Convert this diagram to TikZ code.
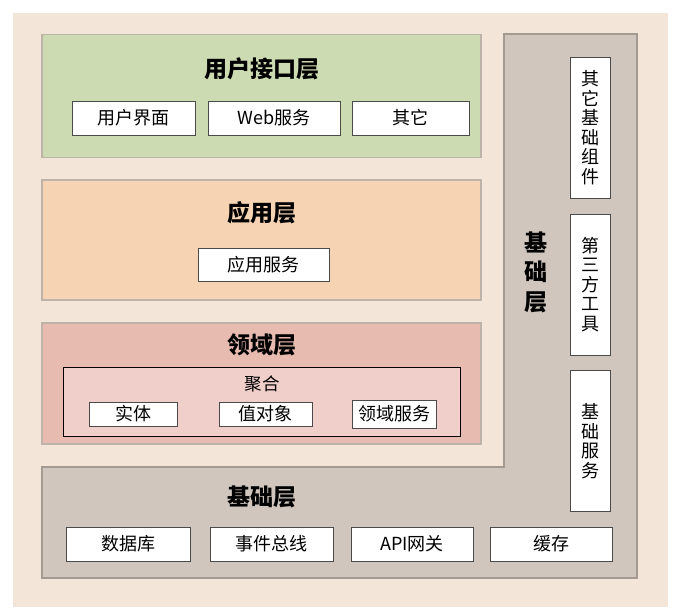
\documentclass[tikz,border=0pt]{standalone}
\usepackage{fontspec}
\setmainfont{Noto Sans CJK SC}
\definecolor{bgc}{HTML}{F3E6D8}
\definecolor{uic}{HTML}{CDDBB3}
\definecolor{appc}{HTML}{F6D4B3}
\definecolor{domc}{HTML}{E7BBAF}
\definecolor{aggc}{HTML}{F0CFCB}
\definecolor{infc}{HTML}{D0C6BD}
\definecolor{layb}{HTML}{BDB3A8}
\definecolor{infb}{HTML}{A39A91}
\definecolor{subb}{HTML}{4A4A4A}
\tikzset{
  layer/.style={draw=layb, line width=1.5pt, inner sep=0pt},
  sub/.style={draw=subb, fill=white, line width=0.8pt, inner sep=0pt, font=\fontsize{18}{20}\selectfont},
  small/.style={sub, font=\fontsize{18}{19}\selectfont},
  vsub/.style={sub, minimum width=40pt, minimum height=141pt, align=center, font=\fontsize{18}{19.5}\selectfont},
  ttl/.style={font=\fontsize{23}{25}\selectfont\bfseries, inner sep=0pt},
}
\begin{document}
\begin{tikzpicture}[x=1pt,y=-1pt]
\useasboundingbox (0,0) rectangle (676,614);
\fill[white] (0,0) rectangle (676,614);
\fill[bgc] (13,13) rectangle (668,607);
% infrastructure L shape
\draw[fill=infc, draw=infb, line width=1.8pt] (504,34) -- (637,34) -- (637,578) -- (42,578) -- (42,467) -- (504,467) -- cycle;
% layers
\node[layer, fill=uic, minimum width=439pt, minimum height=123pt] (uil) at (261.5,96) {};
\node[layer, fill=appc, minimum width=439pt, minimum height=120pt] (appl) at (261.5,240) {};
\node[layer, fill=domc, minimum width=439pt, minimum height=121pt] (doml) at (261.5,383.5) {};
\node[draw=black, fill=aggc, line width=0.8pt, inner sep=0pt, minimum width=397pt, minimum height=69pt] (agg) at (261.5,401.5) {};
% titles
\node[ttl] (t1) at (262,69) {用户接口层};
\node[ttl] (t2) at (262,213) {应用层};
\node[ttl] (t3) at (262,345) {领域层};
\node[ttl] (t4) at (262,497) {基础层};
\node[ttl, align=center, font=\fontsize{23}{29.5}\selectfont\bfseries] (t5) at (536,272) {基\\础\\层};
\node[font=\fontsize{17.5}{19}\selectfont, inner sep=0pt] (aggt) at (262,384) {聚合};
% UI subs
\node[sub, minimum width=123pt, minimum height=34pt] (ui) at (133.5,118) {用户界面};
\node[sub, minimum width=132pt, minimum height=34pt] (web) at (274,118) {Web服务};
\node[sub, minimum width=117pt, minimum height=34pt] (oth) at (410.5,118) {其它};
% app
\node[sub, minimum width=131pt, minimum height=33pt] (as) at (263.5,264.5) {应用服务};
% domain
\node[small, minimum width=88pt, minimum height=24pt] (ent) at (133,414) {实体};
\node[small, minimum width=93pt, minimum height=24pt] (vo) at (265.5,414) {值对象};
\node[small, minimum width=84pt, minimum height=28pt] (ds) at (394,414) {领域服务};
% right column
\node[vsub] (oc) at (590,127.5) {其\\它\\基\\础\\组\\件};
\node[vsub] (tp) at (590,284.5) {第\\三\\方\\工\\具};
\node[vsub] (bs) at (590,441) {基\\础\\服\\务};
% bottom
\node[sub, minimum width=124pt, minimum height=34pt] (db) at (128,544) {数据库};
\node[sub, minimum width=123pt, minimum height=34pt] (eb) at (271.5,544) {事件总线};
\node[sub, minimum width=122pt, minimum height=34pt] (api) at (412,544) {API网关};
\node[sub, minimum width=122pt, minimum height=34pt] (cache) at (551,544) {缓存};
\end{tikzpicture}
\end{document}
